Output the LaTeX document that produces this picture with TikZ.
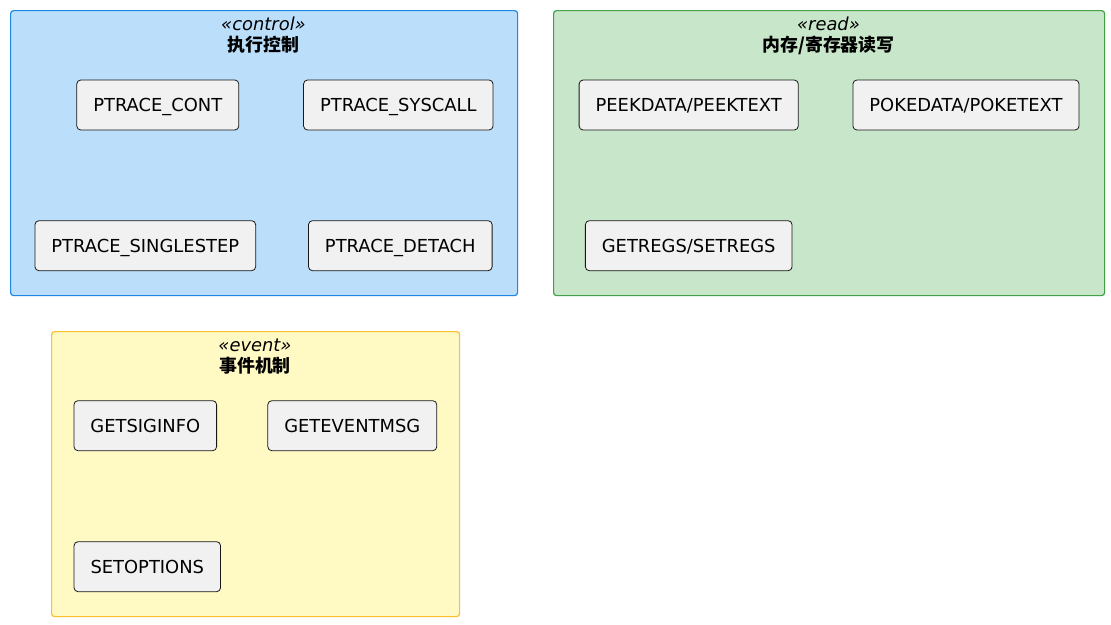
\documentclass[tikz,border=0pt]{standalone}
\usepackage{fontspec}
\setmainfont{DejaVu Sans}
\newfontfamily\cjk{Noto Sans CJK SC}
\usetikzlibrary{positioning}
\definecolor{ctrlfill}{HTML}{BBDEFB}
\definecolor{ctrlline}{HTML}{1E88E5}
\definecolor{readfill}{HTML}{C8E6C9}
\definecolor{readline}{HTML}{43A047}
\definecolor{evtfill}{HTML}{FFF9C4}
\definecolor{evtline}{HTML}{FBC02D}
\definecolor{opfill}{HTML}{F1F1F1}
\definecolor{opline}{HTML}{181818}
\tikzset{
  pkg/.style={line width=1.2pt, rounded corners=3pt, anchor=north west, inner sep=0pt,
    minimum height=285pt},
  op/.style={draw=opline, fill=opfill, line width=0.8pt, rounded corners=4pt,
    minimum height=50pt, inner xsep=16.5pt, inner ysep=0pt, text height=13pt, text depth=0pt,
    font=\fontsize{17.9}{20}\selectfont},
  stereo/.style={font=\fontsize{17.9}{20}\selectfont\itshape, inner sep=0pt},
  pkgtitle/.style={font=\fontsize{17.9}{20}\selectfont\cjk\bfseries, inner sep=0pt},
}
\begin{document}
\begin{tikzpicture}[x=1pt,y=-1pt]
\useasboundingbox (0,0) rectangle (1111,624);
\node[pkg, draw=ctrlline, fill=ctrlfill, minimum width=507pt] (control) at (10,10) {};
\node[stereo] (ctrlst) at (263.5,24) {«control»};
\node[pkgtitle] (ctrltitle) at (263.5,45) {执行控制};
\node[op] (cont) at (157.8,105) {PTRACE\_CONT};
\node[op] (syscall) at (398.3,105) {PTRACE\_SYSCALL};
\node[op] (singlestep) at (145.3,245.7) {PTRACE\_SINGLESTEP};
\node[op] (detach) at (400.3,245.7) {PTRACE\_DETACH};

\node[pkg, draw=readline, fill=readfill, minimum width=551pt] (read) at (553,10) {};
\node[stereo] (readst) at (828.5,24) {«read»};
\node[pkgtitle] (readtitle) at (828.5,45) {内存/寄存器读写};
\node[op] (peek) at (688.7,105) {PEEKDATA/PEEKTEXT};
\node[op] (poke) at (966,105) {POKEDATA/POKETEXT};
\node[op] (regs) at (688.7,245.7) {GETREGS/SETREGS};

\node[pkg, draw=evtline, fill=evtfill, minimum width=408pt] (event) at (51,331) {};
\node[stereo] (evtst) at (255,345) {«event»};
\node[pkgtitle] (evttitle) at (255,366) {事件机制};
\node[op] (siginfo) at (145.3,425.7) {GETSIGINFO};
\node[op] (eventmsg) at (352.3,425.7) {GETEVENTMSG};
\node[op] (setoptions) at (147.3,566.7) {SETOPTIONS};
\end{tikzpicture}
\end{document}
